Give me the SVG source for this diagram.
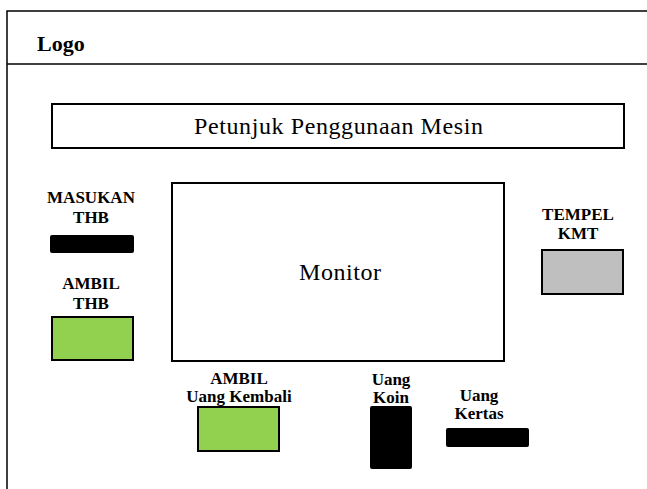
<svg xmlns="http://www.w3.org/2000/svg" width="647" height="489" viewBox="0 0 647 489">
<style>
.t{font-family:'Liberation Serif',Tinos,'Times New Roman',Times,serif}
.lbl{font-size:17px;font-weight:bold;text-anchor:middle}
.big{font-size:24px;text-anchor:middle}
.box{stroke:#000;stroke-width:2}
.frame{fill:none;stroke:#000;stroke-width:1.5}
</style>
<rect width="647" height="489" fill="#fff"/>
<g id="frame">
<path class="frame" d="M647,11 H7 V489"/>
<path class="frame" d="M7,64 H647"/>
<text class="t" x="37" y="51" font-size="22" font-weight="bold">Logo</text>
</g>
<g id="petunjuk">
<rect class="box" x="52" y="104" width="572" height="44" fill="#fff"/>
<text class="t big" x="338.5" y="134" textLength="289" lengthAdjust="spacing">Petunjuk Penggunaan Mesin</text>
</g>
<g id="monitor">
<rect class="box" x="172" y="183" width="332" height="178" fill="#fff"/>
<text class="t big" x="340" y="280" textLength="82" lengthAdjust="spacing">Monitor</text>
</g>
<g id="masukan-thb">
<text class="t lbl" x="91" y="203" font-size="18">MASUKAN</text>
<text class="t lbl" x="91" y="223">THB</text>
<rect class="box" x="51" y="236" width="82" height="16" fill="#000" rx="1"/>
</g>
<g id="ambil-thb">
<text class="t lbl" x="91" y="289">AMBIL</text>
<text class="t lbl" x="91" y="309">THB</text>
<rect class="box" x="52" y="317" width="81" height="43" fill="#92D050"/>
</g>
<g id="tempel-kmt">
<text class="t lbl" x="578" y="220">TEMPEL</text>
<text class="t lbl" x="578" y="239">KMT</text>
<rect class="box" x="542" y="250" width="81" height="44" fill="#BFBFBF"/>
</g>
<g id="ambil-uang-kembali">
<text class="t lbl" x="239" y="384">AMBIL</text>
<text class="t lbl" x="239" y="402">Uang Kembali</text>
<rect class="box" x="198" y="407" width="81" height="44" fill="#92D050"/>
</g>
<g id="uang-koin">
<text class="t lbl" x="391" y="385">Uang</text>
<text class="t lbl" x="391" y="403">Koin</text>
<rect class="box" x="371" y="407" width="40" height="61" fill="#000" rx="1"/>
</g>
<g id="uang-kertas">
<text class="t lbl" x="479" y="401">Uang</text>
<text class="t lbl" x="479" y="419">Kertas</text>
<rect class="box" x="447" y="429" width="81" height="17" fill="#000" rx="1"/>
</g>
<g id="connectors"></g>
</svg>
